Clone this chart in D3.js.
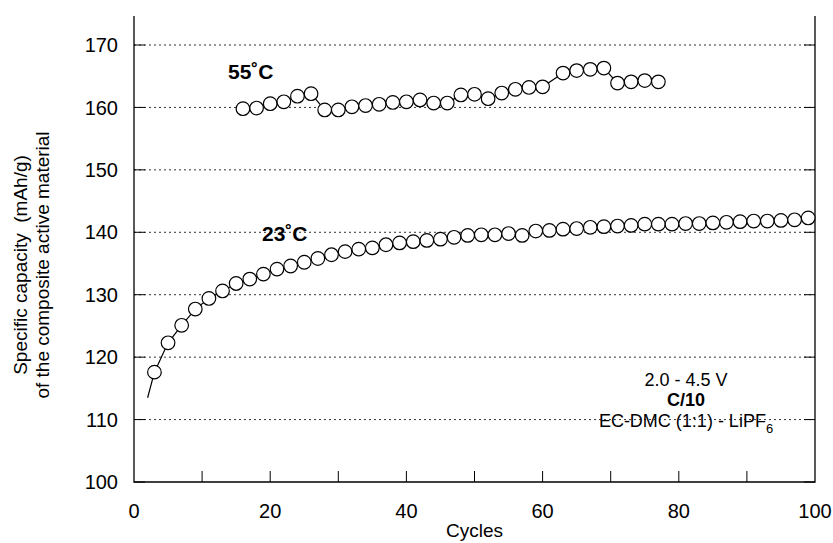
<!DOCTYPE html>
<html>
<head>
<meta charset="utf-8">
<script src="https://cdn.jsdelivr.net/npm/d3@7"></script>
<style>
  body { margin: 0; background: #fff; }
  svg text { font-family: "Liberation Sans", Arial, Helvetica, sans-serif; fill: #000; }
</style>
</head>
<body>
<svg id="chart" width="833" height="543"></svg>
<script>
// 55 C series
let cycles55 = [16,18,20,22,24,26,28,30,32,34,36,38,40,42,44,46,48,50,52,54,56,58,60,63,65,67,69,71,73,75,77]
let cap55 = [159.8,159.9,160.6,160.9,161.8,162.2,159.6,159.6,160.1,160.3,160.5,160.8,160.9,161.2,160.7,
             160.7,162.0,162.1,161.4,162.3,162.9,163.2,163.3,165.5,165.9,166.1,166.3,163.9,164.1,164.3,164.1]

// 23 C series
let cycles23 = [3,5,7,9,11,13,15,17,19,21,23,25,27,29,31,33,35,37,39,41,43,45,47,49,51,53,55,57,59,61,
                63,65,67,69,71,73,75,77,79,81,83,85,87,89,91,93,95,97,99]
let cap23 = [117.6,122.3,125.1,127.7,129.4,130.6,131.8,132.5,133.3,134.1,134.6,135.2,135.8,136.4,136.9,137.3,
             137.5,138.0,138.3,138.5,138.7,138.9,139.2,139.5,139.6,139.6,139.8,139.5,140.2,140.3,140.5,140.6,
             140.8,140.9,141.0,141.1,141.3,141.3,141.3,141.4,141.4,141.5,141.6,141.7,141.8,141.8,141.9,142.0,142.3]
// the fitted line starts a little before the first marker
let lineStart23 = {cycle: 2, cap: 113.5}

let xTicks = [0,20,40,60,80,100]
let xMinorTicks = [10,20,30,40,50,60,70,80,90]
let yTicks = [100,110,120,130,140,150,160,170]

let annotation = ["2.0 - 4.5 V", "C/10", "EC-DMC (1:1) - LiPF"]

let plotLeft = 134, plotRight = 815, plotTop = 45, plotBottom = 482

let svg = d3.select("#chart")

let x = d3.scaleLinear().domain([0, 100]).range([plotLeft, plotRight])
let y = d3.scaleLinear().domain([100, 170]).range([plotBottom, plotTop])

// grid lines
svg.append("g")
    .selectAll("line")
    .data(yTicks.filter(d => d > 100))
    .enter()
    .append("line")
    .attr("x1", plotLeft).attr("x2", plotRight)
    .attr("y1", d => y(d)).attr("y2", d => y(d))
    .attr("stroke", "#333")
    .attr("stroke-width", 1)
    .attr("stroke-dasharray", "2,3")

// inward ticks, left and right
let tickLen = 11
let yt = svg.append("g")
yt.selectAll(".tl").data(yTicks).enter().append("line")
    .attr("x1", plotLeft).attr("x2", plotLeft + tickLen)
    .attr("y1", d => y(d)).attr("y2", d => y(d))
    .attr("stroke", "#000").attr("stroke-width", 1)
yt.selectAll(".tr").data(yTicks).enter().append("line")
    .attr("x1", plotRight - tickLen).attr("x2", plotRight)
    .attr("y1", d => y(d)).attr("y2", d => y(d))
    .attr("stroke", "#000").attr("stroke-width", 1)

svg.append("g").selectAll("line")
    .data(xMinorTicks).enter().append("line")
    .attr("x1", d => x(d)).attr("x2", d => x(d))
    .attr("y1", plotBottom).attr("y2", plotBottom - tickLen)
    .attr("stroke", "#000").attr("stroke-width", 1)

// frame (no top line)
svg.append("path")
    .attr("d", "M" + plotLeft + ",16V" + plotBottom + "H" + plotRight + "V16")
    .attr("fill", "none")
    .attr("stroke", "#000")
    .attr("stroke-width", 1.3)

// tick labels
svg.append("g").selectAll("text")
    .data(yTicks).enter().append("text")
    .attr("x", plotLeft - 16)
    .attr("y", d => y(d))
    .attr("dy", "0.36em")
    .attr("text-anchor", "end")
    .attr("font-size", 20)
    .text(d => d)

svg.append("g").selectAll("text")
    .data(xTicks).enter().append("text")
    .attr("x", d => x(d))
    .attr("y", plotBottom + 36)
    .attr("text-anchor", "middle")
    .attr("font-size", 20)
    .text(d => d)

svg.append("text")
    .attr("x", (plotLeft + plotRight) / 2)
    .attr("y", 537)
    .attr("text-anchor", "middle")
    .attr("font-size", 19)
    .text("Cycles")

let yTitle = svg.append("text")
    .attr("transform", "translate(0,265) rotate(-90)")
    .attr("text-anchor", "middle")
    .attr("font-size", 19)
yTitle.append("tspan").attr("x", 0).attr("y", 27).text("Specific capacity\u00a0 (mAh/g)")
yTitle.append("tspan").attr("x", 0).attr("y", 49).text("of the composite active material")

// series
let line = d3.line().x(d => x(d.cycle)).y(d => y(d.cap))

let data55 = cycles55.map((c, i) => ({cycle: c, cap: cap55[i]}))
let data23 = cycles23.map((c, i) => ({cycle: c, cap: cap23[i]}))

svg.append("path")
    .datum(data55)
    .attr("d", line)
    .attr("fill", "none")
    .attr("stroke", "#000")
    .attr("stroke-width", 1.2)

svg.append("path")
    .datum([lineStart23].concat(data23))
    .attr("d", line)
    .attr("fill", "none")
    .attr("stroke", "#000")
    .attr("stroke-width", 1.2)

for (let series of [data55, data23]) {
    svg.append("g").selectAll("circle")
        .data(series).enter().append("circle")
        .attr("cx", d => x(d.cycle))
        .attr("cy", d => y(d.cap))
        .attr("r", 6.8)
        .attr("fill", "#fff")
        .attr("stroke", "#000")
        .attr("stroke-width", 1.2)
}

// series labels
svg.append("text")
    .attr("x", 228).attr("y", 79)
    .attr("font-size", 21).attr("font-weight", "bold")
    .text("55˚C")
svg.append("text")
    .attr("x", 262).attr("y", 241)
    .attr("font-size", 21).attr("font-weight", "bold")
    .text("23˚C")

// conditions
let annX = 686
svg.append("text").attr("x", annX).attr("y", 386)
    .attr("text-anchor", "middle").attr("font-size", 18)
    .text(annotation[0])
svg.append("text").attr("x", annX).attr("y", 406)
    .attr("text-anchor", "middle").attr("font-size", 18).attr("font-weight", "bold")
    .text(annotation[1])
let el = svg.append("text").attr("x", annX).attr("y", 427)
    .attr("text-anchor", "middle").attr("font-size", 18)
el.append("tspan").text(annotation[2])
el.append("tspan").attr("dy", 6).attr("font-size", 13).text("6")
</script>
</body>
</html>
